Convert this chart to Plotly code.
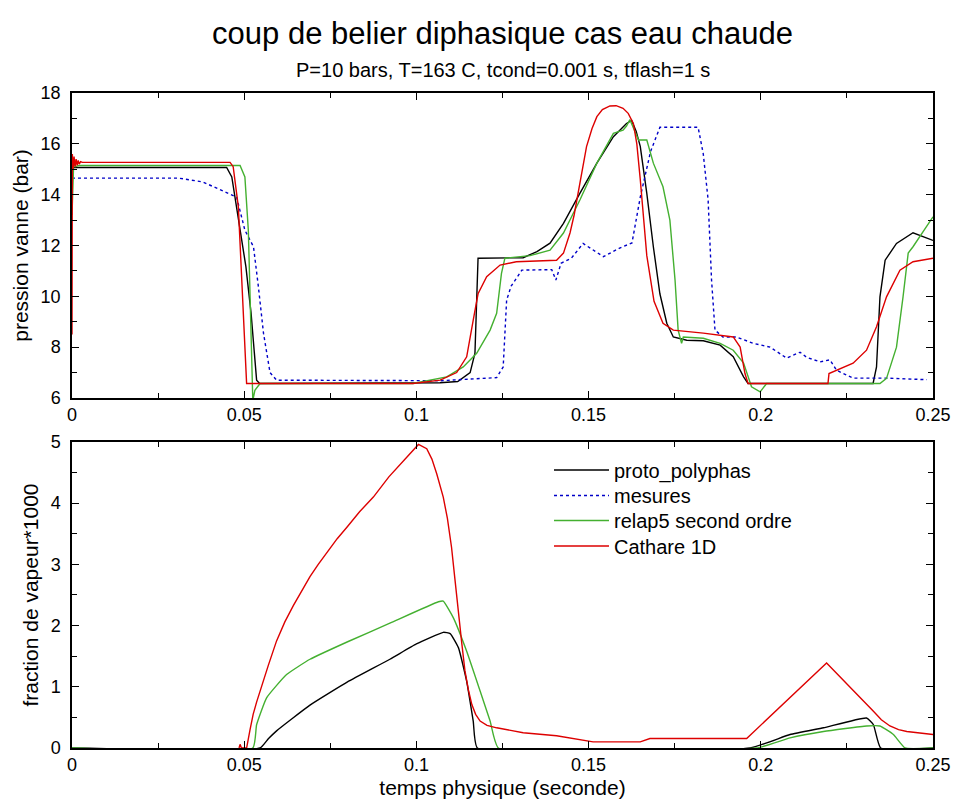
import plotly.graph_objects as go

# ---------------- data: top panel (pression vanne, bar) ----------------
t_proto_p = [0, 0.0449, 0.0464, 0.048, 0.0505, 0.052, 0.0536, 0.0545, 0.1069, 0.112, 0.1156,
             0.117, 0.1179, 0.131, 0.135, 0.1388, 0.1427, 0.1475, 0.1524, 0.1572, 0.1595, 0.161,
             0.1625, 0.1638, 0.165, 0.1669, 0.1688, 0.1707, 0.1727, 0.1746, 0.1785, 0.1833,
             0.1882, 0.192, 0.195, 0.1963, 0.2326, 0.2336, 0.2346, 0.2361, 0.2394, 0.2442, 0.25]
p_proto = [15.07, 15.07, 14.7, 13.26, 11.16, 9.33, 6.7, 6.57, 6.6, 6.65, 7.0,
           7.76, 11.5, 11.52, 11.76, 12.09, 12.87, 14.06, 15.24, 16.28, 16.62, 16.8,
           16.92, 16.5, 15.9, 14.05, 11.95, 10.1, 8.94, 8.4, 8.27, 8.25,
           8.08, 7.62, 6.83, 6.57, 6.57, 7.22, 9.98, 11.42, 12.08, 12.5, 12.2]

t_mes_p = [0, 0.031, 0.038, 0.0458, 0.0478, 0.0502, 0.0527, 0.0541, 0.0556, 0.0575, 0.0594,
           0.107, 0.1233, 0.1252, 0.1262, 0.1275, 0.1306, 0.1393, 0.1405, 0.142, 0.145, 0.1484,
           0.1543, 0.159, 0.1626, 0.165, 0.168, 0.1707, 0.1818, 0.1833, 0.1847, 0.1857, 0.1867,
           0.189, 0.1929, 0.1978, 0.2027, 0.2075, 0.2114, 0.2133, 0.2172, 0.2201, 0.222, 0.2268,
           0.2365, 0.2482]
p_mes = [14.65, 14.65, 14.5, 14.0, 13.9, 12.6, 11.95, 10.4, 8.55, 7.0, 6.7,
         6.68, 6.8, 7.22, 9.85, 10.4, 11.03, 11.05, 10.64, 11.3, 11.5, 12.08,
         11.56, 11.9, 12.1, 13.9, 15.7, 16.65, 16.65, 15.6, 13.8, 10.64, 8.67,
         8.4, 8.4, 8.15, 8.0, 7.57, 7.8, 7.6, 7.42, 7.5, 7.09, 6.78,
         6.78, 6.72]

t_relap_p = [0, 0.0005, 0.001, 0.002, 0.0488, 0.0502, 0.0512, 0.0519, 0.0525, 0.0531, 0.0546,
             0.099, 0.1088, 0.1136, 0.1175, 0.1214, 0.1233, 0.1247, 0.1257, 0.133, 0.1388,
             0.1427, 0.1475, 0.1524, 0.1572, 0.16, 0.161, 0.162, 0.163, 0.1645, 0.1669, 0.1688,
             0.1716, 0.1736, 0.1751, 0.176, 0.177, 0.1775, 0.1833, 0.1882, 0.192, 0.195, 0.1973,
             0.1998, 0.2017, 0.2346, 0.2365, 0.2394, 0.2413, 0.2428, 0.2442, 0.2462, 0.25]
p_relap = [13.2, 15.3, 15.1, 15.15, 15.15, 14.7, 12.6, 9.33, 5.9, 6.3, 6.57,
           6.57, 6.83, 7.22, 7.76, 8.67, 9.33, 10.9, 11.5, 11.6, 11.82,
           12.49, 13.8, 15.24, 16.41, 16.54, 16.7, 16.95, 16.6, 16.15, 16.15, 15.24,
           14.31, 13.0, 10.64, 8.67, 8.15, 8.4, 8.35, 8.15, 7.88, 7.37, 6.44,
           6.24, 6.57, 6.57, 6.77, 8.0, 9.98, 11.7, 11.95, 12.34, 13.13]

t_cath_p = [0, 0.0001, 0.0003, 0.0006, 0.0009, 0.0012, 0.0015, 0.0018, 0.0021, 0.0025, 0.003,
            0.0459, 0.0468, 0.0483, 0.0493, 0.0503, 0.0507, 0.099, 0.1069, 0.1117, 0.1146,
            0.1165, 0.1179, 0.1204, 0.1243, 0.129, 0.1407, 0.1427, 0.1446, 0.1458, 0.147,
            0.1482, 0.1494, 0.151, 0.1524, 0.154, 0.1562, 0.158, 0.16, 0.1615, 0.163, 0.164,
            0.165, 0.1669, 0.169, 0.1716, 0.1746, 0.1833, 0.192, 0.194, 0.1954, 0.1963, 0.2195,
            0.2198, 0.2268, 0.2307, 0.2336, 0.2365, 0.2404, 0.2442, 0.25]
p_cath = [8.5, 15.6, 15.0, 15.5, 15.1, 15.4, 15.15, 15.35, 15.2, 15.3, 15.27,
          15.27, 15.1, 13.52, 10.64, 8.0, 6.57, 6.57, 6.7, 7.0, 7.62,
          9.06, 10.1, 10.77, 11.23, 11.36, 11.42, 11.7, 12.49, 13.2, 14.06,
          15.0, 15.89, 16.6, 17.07, 17.35, 17.49, 17.5, 17.4, 17.2, 16.8, 16.0,
          14.6, 11.6, 9.8, 8.94, 8.67, 8.55, 8.4, 8.0, 6.96, 6.57, 6.57,
          6.96, 7.37, 7.88, 8.8, 9.98, 11.03, 11.36, 11.5]

# ---------------- data: bottom panel (fraction de vapeur * 1000) ----------------
t_proto_v = [0, 0.0546, 0.057, 0.0594, 0.0691, 0.08, 0.0923, 0.1, 0.1078, 0.1098, 0.1122,
             0.1146, 0.1165, 0.1177, 0.1969, 0.2085, 0.2182, 0.2307, 0.2327, 0.2348, 0.25]
v_proto = [0, 0, 0.15, 0.28, 0.7, 1.08, 1.45, 1.7, 1.89, 1.87, 1.64,
           1.09, 0.44, 0, 0, 0.22, 0.33, 0.49, 0.38, 0, 0]

t_relap_v = [0, 0.0525, 0.0536, 0.0565, 0.0623, 0.0691, 0.0802, 0.0923, 0.1064, 0.1078,
             0.1107, 0.1146, 0.1185, 0.1214, 0.1238, 0.1988, 0.2085, 0.2182, 0.2307, 0.2346,
             0.2385, 0.2419, 0.25]
v_relap = [0, 0, 0.38, 0.82, 1.2, 1.45, 1.74, 2.04, 2.39, 2.4,
           2.13, 1.58, 0.93, 0.44, 0, 0, 0.165, 0.27, 0.36, 0.36,
           0.22, 0, 0]

t_cath_v = [0.0485, 0.0488, 0.0492, 0.0507, 0.0517, 0.0526, 0.0536, 0.0546, 0.057, 0.0594,
            0.0618, 0.0643, 0.0667, 0.0691, 0.0715, 0.074, 0.077, 0.08, 0.0835, 0.0875,
            0.092, 0.0972, 0.1006, 0.103, 0.1045, 0.1059, 0.1078, 0.109, 0.1102, 0.1112,
            0.1122, 0.1132, 0.1141, 0.1151, 0.1161, 0.1172, 0.1185, 0.1205, 0.1233, 0.131,
            0.1407, 0.1475, 0.1513, 0.165, 0.1678, 0.1959, 0.2191, 0.2327, 0.235, 0.2375,
            0.24, 0.2424, 0.25]
v_cath = [0, 0.06, 0, 0, 0.3, 0.55, 0.75, 0.93, 1.35, 1.75,
          2.06, 2.33, 2.57, 2.8, 3.0, 3.2, 3.42, 3.62, 3.86, 4.1,
          4.43, 4.75, 4.96, 4.89, 4.72, 4.48, 4.1, 3.75, 3.28, 2.75,
          2.19, 1.7, 1.26, 0.95, 0.71, 0.55, 0.44, 0.37, 0.33, 0.25,
          0.2, 0.14, 0.1, 0.1, 0.155, 0.155, 1.39, 0.6, 0.46, 0.36,
          0.3, 0.27, 0.22]

names = ["proto_polyphas", "mesures", "relap5 second ordre", "Cathare 1D"]
colors = ["#000000", "#0000c8", "#44b030", "#dd0000"]
legend_ids = ["legend", "legend2", "legend3", "legend4"]

FONT = "Liberation Sans, Arial, Helvetica, sans-serif"

fig = go.Figure()
top = [(t_proto_p, p_proto), (t_mes_p, p_mes), (t_relap_p, p_relap), (t_cath_p, p_cath)]
for i, (tx, py) in enumerate(top):
    fig.add_trace(go.Scatter(
        x=tx, y=py, mode="lines", name=names[i], legend=legend_ids[i],
        line=dict(color=colors[i], width=1.4, dash="dot" if i == 1 else "solid"),
        xaxis="x", yaxis="y", showlegend=True))

bottom = [(0, t_proto_v, v_proto, "spline"), (2, t_relap_v, v_relap, "spline"),
          (3, t_cath_v, v_cath, "linear")]
for i, tx, vy, shp in bottom:
    line = dict(color=colors[i], width=1.4, shape=shp)
    if shp == "spline":
        line["smoothing"] = 0.4
    fig.add_trace(go.Scatter(
        x=tx, y=vy, mode="lines", name=names[i], line=line,
        xaxis="x2", yaxis="y2", showlegend=False))

axis_common = dict(
    showline=True, linecolor="black", linewidth=1.5, mirror="ticks",
    ticks="inside", ticklen=7, tickwidth=1, tickcolor="black",
    showgrid=False, zeroline=False, automargin=False,
    tickfont=dict(family=FONT, size=18, color="black"),
)
title_font = dict(family=FONT, size=21, color="black")

# one legend per entry so the row spacing matches the original
row_y_px = [470, 495.5, 520.5, 546]
legends = {}
for k, lid in enumerate(legend_ids):
    legends[lid] = dict(x=(549 - 72) / 861, y=(748 - row_y_px[k]) / 655,
                        xanchor="left", yanchor="middle",
                        bgcolor="rgba(0,0,0,0)", borderwidth=0,
                        font=dict(family=FONT, size=20, color="black"),
                        itemwidth=55)

fig.update_layout(
    width=954, height=803,
    margin=dict(l=72, r=21, t=93, b=55),
    paper_bgcolor="white", plot_bgcolor="white",
    font=dict(family=FONT, color="black"),
    title=dict(text="coup de belier diphasique cas eau chaude",
               font=dict(family=FONT, size=31, color="black"),
               x=0.5, xanchor="center", xref="paper",
               y=1 - 33 / 803, yanchor="middle", yref="container"),
    xaxis=dict(domain=[0, 1], anchor="y", range=[0, 0.25], dtick=0.05, tick0=0,
               minor=dict(ticks="inside", dtick=0.025, ticklen=5, tickcolor="black"),
               **axis_common),
    yaxis=dict(domain=[0.5344, 1], anchor="x", range=[6, 18], dtick=2, tick0=6,
               minor=dict(ticks="inside", dtick=1, ticklen=5, tickcolor="black"),
               ticklabelstandoff=6,
               title=dict(text="pression vanne (bar)", standoff=6, font=title_font),
               **axis_common),
    xaxis2=dict(domain=[0, 1], anchor="y2", range=[0, 0.25], dtick=0.05, tick0=0,
                minor=dict(ticks="inside", dtick=0.025, ticklen=5, tickcolor="black"),
                title=dict(text="temps physique (seconde)", standoff=6, font=title_font),
                **axis_common),
    yaxis2=dict(domain=[0, 0.4672], anchor="x2", range=[0, 5], dtick=1, tick0=0,
                minor=dict(ticks="inside", dtick=0.5, ticklen=5, tickcolor="black"),
                ticklabelstandoff=6,
                title=dict(text="fraction de vapeur*1000", standoff=6, font=title_font),
                **axis_common),
    annotations=[dict(text="P=10 bars, T=163 C, tcond=0.001 s, tflash=1 s",
                      xref="paper", yref="paper", x=0.5, y=(748 - 70) / 655,
                      xanchor="center", yanchor="middle", showarrow=False,
                      font=dict(family=FONT, size=20, color="black"))],
    **legends,
)

fig.write_html("out.html")
